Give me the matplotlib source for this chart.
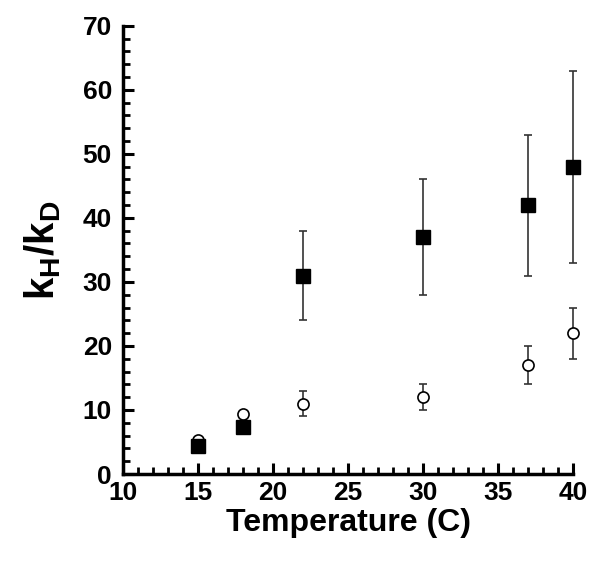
import matplotlib
matplotlib.use("Agg")
import matplotlib.pyplot as plt
from matplotlib.ticker import MultipleLocator
import numpy as np

plt.rcParams['font.family'] = ['Liberation Sans', 'DejaVu Sans']
plt.rcParams['mathtext.fontset'] = 'custom'
plt.rcParams['mathtext.rm'] = 'Liberation Sans'
plt.rcParams['mathtext.bf'] = 'Liberation Sans:bold'
plt.rcParams['mathtext.it'] = 'Liberation Sans:italic'

temp = [15, 18, 22, 30, 37, 40]
sq_val = [4.4, 7.3, 31, 37, 42, 48]
sq_lo = [4.4, 7.3, 24, 28, 31, 33]
sq_hi = [4.4, 7.3, 38, 46, 53, 63]
circ_val = [5.3, 9.4, 11, 12, 17, 22]
circ_lo = [5.3, 9.4, 9, 10, 14, 18]
circ_hi = [5.3, 9.4, 13, 14, 20, 26]

fig = plt.figure(figsize=(6, 5.66), dpi=100)
ax = fig.add_axes([0.205, 0.1625, 0.75, 0.792])

sv = np.array(sq_val); cv = np.array(circ_val)
for art in [
    ax.errorbar(temp, circ_val, yerr=[cv - np.array(circ_lo), np.array(circ_hi) - cv],
                fmt='o', mfc='white', mec='black', mew=1.2, ms=8, ecolor='#333333',
                elinewidth=1.2, capsize=3, capthick=1.2, zorder=3),
    ax.errorbar(temp, sq_val, yerr=[sv - np.array(sq_lo), np.array(sq_hi) - sv],
                fmt='s', mfc='black', mec='black', ms=10, ecolor='#333333',
                elinewidth=1.2, capsize=3, capthick=1.2, zorder=4)]:
    for child in art.get_children():
        child.set_clip_on(False)

ax.set_xlim(10, 40)
ax.set_ylim(0, 70)
ax.xaxis.set_major_locator(MultipleLocator(5))
ax.xaxis.set_minor_locator(MultipleLocator(1))
ax.yaxis.set_major_locator(MultipleLocator(10))
ax.yaxis.set_minor_locator(MultipleLocator(2))
for s in ['top', 'right']:
    ax.spines[s].set_visible(False)
for s in ['left', 'bottom']:
    ax.spines[s].set_linewidth(2.5)
ax.tick_params(which='major', direction='in', length=8, width=2.2, labelsize=19, pad=8)
ax.tick_params(axis='x', which='major', pad=5)
ax.tick_params(which='minor', direction='in', length=5, width=2.0)
for lab in ax.get_xticklabels() + ax.get_yticklabels():
    lab.set_fontweight('bold')
ax.set_xlabel('Temperature (C)', fontsize=23, fontweight='bold', labelpad=2)
ax.set_ylabel(r'$\mathbf{k_H/k_D}$', fontsize=29, labelpad=14)
fig.savefig('out.png', dpi=100)
